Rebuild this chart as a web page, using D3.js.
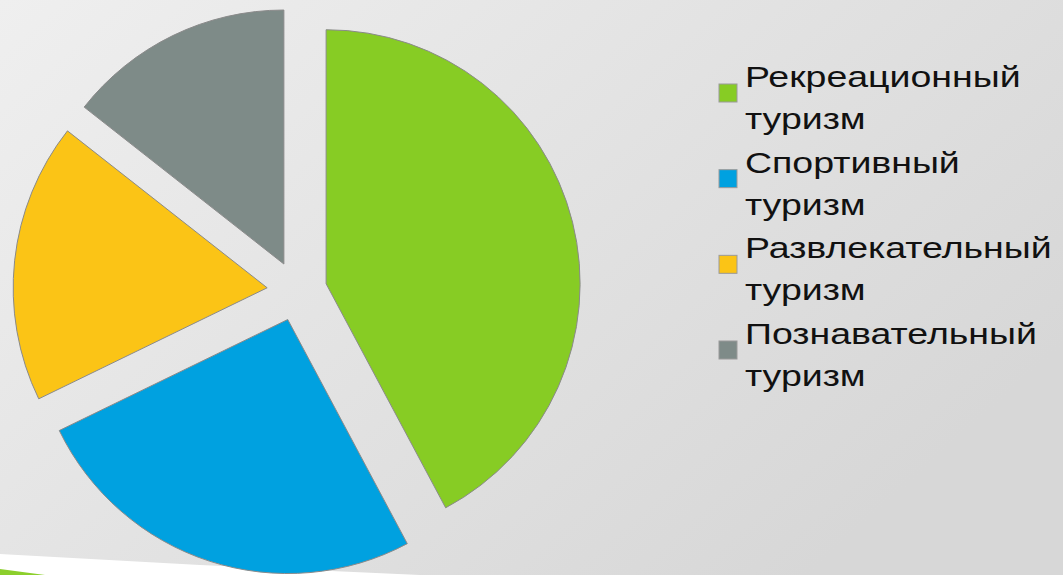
<!DOCTYPE html>
<html>
<head>
<meta charset="utf-8">
<script src="https://cdn.jsdelivr.net/npm/d3@7"></script>
<style>
  body { margin: 0; overflow: hidden; }
  svg { display: block; }
</style>
</head>
<body>
<div id="chart"></div>
<script>
var categories = ["Рекреационный туризм", "Спортивный туризм", "Развлекательный туризм", "Познавательный туризм"];
var values = [42.2, 25.6, 17.8, 14.4];
var colors = ["#87cc24", "#00a1e0", "#fbc416", "#7e8b88"];

var width = 1063, height = 575;

var svg = d3.select("#chart").append("svg")
  .attr("width", width)
  .attr("height", height);

// background, slide style
var grad = svg.append("defs").append("linearGradient")
  .attr("id", "bg")
  .attr("x1", "0%").attr("y1", "0%")
  .attr("x2", "100%").attr("y2", "60%");
grad.append("stop").attr("offset", "0%").attr("stop-color", "#efefef");
grad.append("stop").attr("offset", "100%").attr("stop-color", "#d7d7d7");

svg.append("rect")
  .attr("width", width).attr("height", height)
  .attr("fill", "url(#bg)");

// white + green stripes, bottom left corner
svg.append("path")
  .attr("d", "M0,554 L200,565 L420,575 L0,575 Z")
  .attr("fill", "#ffffff");
svg.append("path")
  .attr("d", "M0,569 L45,575 L0,575 Z")
  .attr("fill", "#8ccf2c");

// pie
var pie = d3.pie().sort(null).value(function(d){ return d; });
var arcs = pie(values);
var radius = 254;
var explode = 30;

var arc = d3.arc().innerRadius(0).outerRadius(radius);

var g = svg.append("g")
  .attr("transform", "translate(297,291)");

g.selectAll("path.slice")
  .data(arcs)
  .enter().append("path")
  .attr("class", "slice")
  .attr("d", arc)
  .attr("transform", function(d){
    var mid = (d.startAngle + d.endAngle) / 2;
    return "translate(" + (explode * Math.sin(mid)) + "," + (-explode * Math.cos(mid)) + ")";
  })
  .attr("fill", function(d, i){ return colors[i]; })
  .attr("stroke", "#8a8a8a")
  .attr("stroke-width", 1);

// legend
var legend = svg.append("g").attr("transform", "translate(719,0)");
var rowY = d3.scaleLinear().domain([0, 3]).range([87, 344]);

var item = legend.selectAll("g.item")
  .data(categories)
  .enter().append("g")
  .attr("class", "item")
  .attr("transform", function(d, i){ return "translate(0," + rowY(i) + ")"; });

item.append("rect")
  .attr("x", 0).attr("y", -3)
  .attr("width", 18).attr("height", 18)
  .attr("fill", function(d, i){ return colors[i]; })
  .attr("stroke", "#9a9a9a")
  .attr("stroke-width", 1);

// text in the slide is stretched sideways
var txt = item.append("text")
  .attr("transform", "translate(26,0) scale(1.25,1)")
  .attr("font-family", "Liberation Sans, Arial, sans-serif")
  .attr("font-size", 30)
  .attr("fill", "#111");

txt.selectAll("tspan")
  .data(function(d){ return d.split(" "); })
  .enter().append("tspan")
  .attr("x", 0)
  .attr("y", function(d, j){ return j * 42; })
  .text(function(d){ return d; });
</script>
</body>
</html>
